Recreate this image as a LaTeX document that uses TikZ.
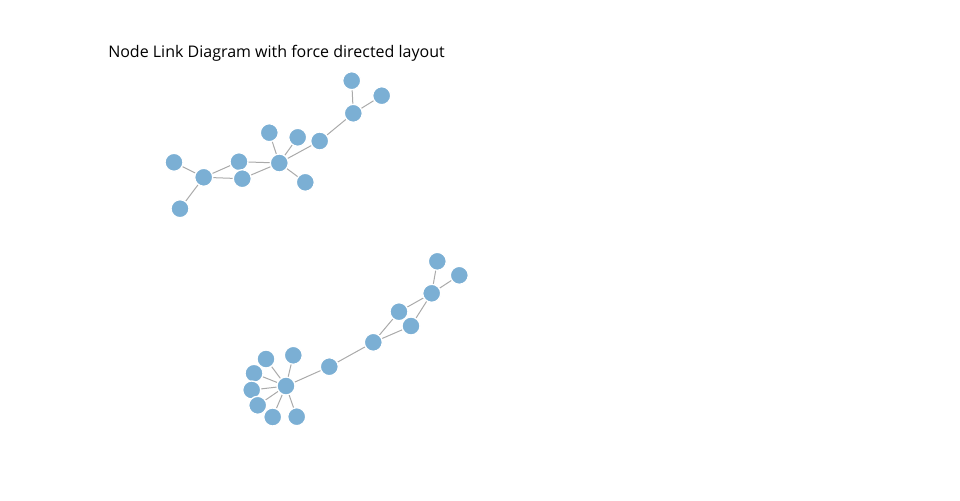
\documentclass[tikz,border=0pt]{standalone}
\usepackage{fontspec}
\setmainfont{Open Sans}
\usetikzlibrary{backgrounds}
\definecolor{nodeblue}{RGB}{123,175,212}
\definecolor{linkgray}{RGB}{170,170,170}
\begin{document}
\begin{tikzpicture}[x=0.75pt,y=-0.75pt,
  vert/.style={circle,fill=nodeblue,draw=white,line width=1pt,minimum size=13.5pt,inner sep=0pt},
  link/.style={draw=linkgray,line width=0.75pt}]
\useasboundingbox (0,0) rectangle (960,500);
\node[anchor=base west,inner sep=0pt,font=\fontsize{12pt}{14pt}\selectfont] (title) at (108,57) {Node Link Diagram with force directed layout};
% top component
\node[vert] (a1) at (351.7,80.7) {};
\node[vert] (a2) at (381.7,95.7) {};
\node[vert] (a3) at (353.3,113.3) {};
\node[vert] (a4) at (319.7,141) {};
\node[vert] (a5) at (269.3,132.7) {};
\node[vert] (a6) at (297.7,137.3) {};
\node[vert] (a7) at (279.3,163) {};
\node[vert] (a8) at (305.3,182.3) {};
\node[vert] (a9) at (239,161.7) {};
\node[vert] (a10) at (242.3,178.7) {};
\node[vert] (a11) at (203.7,177.3) {};
\node[vert] (a12) at (174,162.3) {};
\node[vert] (a13) at (180,208.7) {};
% bottom component
\node[vert] (b1) at (437.3,261.3) {};
\node[vert] (b2) at (459.3,275.3) {};
\node[vert] (b3) at (431.7,293.3) {};
\node[vert] (b4) at (399,311.7) {};
\node[vert] (b5) at (411,326) {};
\node[vert] (b6) at (373.3,342.3) {};
\node[vert] (b7) at (329.3,366.7) {};
\node[vert] (b8) at (286,386) {};
\node[vert] (c1) at (266,359) {};
\node[vert] (c2) at (293.3,355.3) {};
\node[vert] (c3) at (254,373.3) {};
\node[vert] (c4) at (251.7,390) {};
\node[vert] (c5) at (257.7,405.3) {};
\node[vert] (c6) at (272.7,417) {};
\node[vert] (c7) at (296.7,416.7) {};
\begin{scope}[on background layer]
\foreach \u/\v in {a3/a1,a3/a2,a3/a4,a7/a4,a7/a5,a7/a6,a7/a8,a7/a9,a7/a10,a11/a9,a11/a10,a11/a12,a11/a13,
  b3/b1,b3/b2,b3/b4,b3/b5,b4/b6,b5/b6,b6/b7,b7/b8,b8/c1,b8/c2,b8/c3,b8/c4,b8/c5,b8/c6,b8/c7}
  \draw[link] (\u.center) -- (\v.center);
\end{scope}
\end{tikzpicture}
\end{document}
